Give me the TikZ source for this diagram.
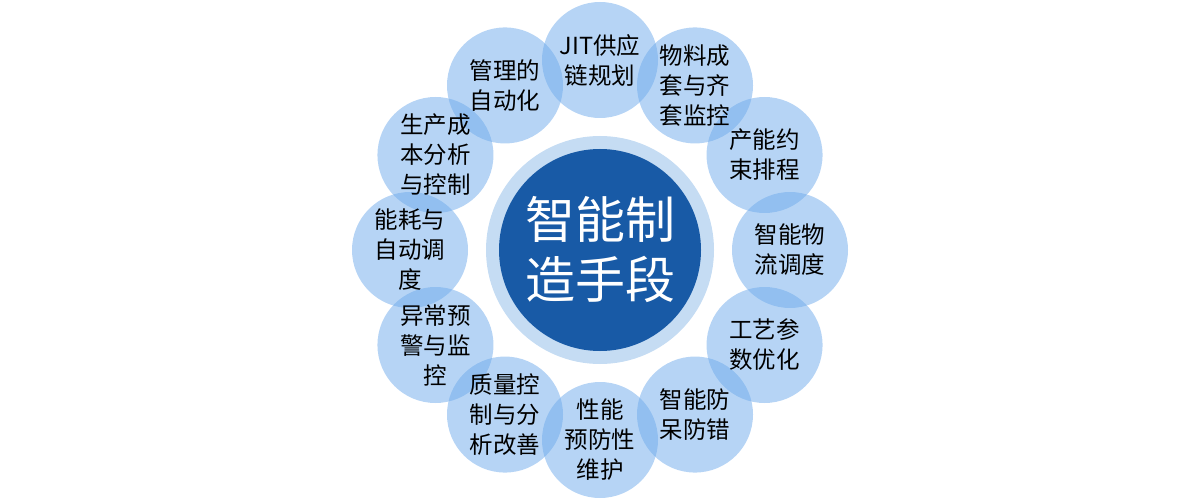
\documentclass[tikz,border=0pt]{standalone}
\usepackage{fontspec}
\setmainfont{Noto Sans CJK SC}
\definecolor{petalblue}{RGB}{110,170,235}
\definecolor{ringblue}{RGB}{197,220,243}
\definecolor{coreblue}{RGB}{24,90,166}
\begin{document}
\begin{tikzpicture}[x=1pt,y=-1pt,
  petal/.style={circle,minimum size=116pt,inner sep=0pt,fill=petalblue,fill opacity=0.5},
  petaltext/.style={align=center,font=\fontsize{23.5}{30}\selectfont,text=black,inner sep=0pt},
  ringdisc/.style={circle,minimum size=228pt,inner sep=0pt,fill=ringblue},
  coredisc/.style={circle,minimum size=202pt,inner sep=0pt,fill=coreblue,text=white,align=center,font=\fontsize{50}{60}\selectfont}]
\useasboundingbox (0,0) rectangle (1200,500);
\node[ringdisc] (ring) at (600,250) {};
\node[coredisc] (core) at (600,250) {智能制\\造手段};
\foreach \i/\x/\y in {1/600/60, 2/695/85.45, 3/764.54/155, 4/790/250,
  5/764.54/345, 6/695/414.55, 7/600/440, 8/505/414.55,
  9/435.46/345, 10/410/250, 11/435.46/155, 12/505/85.45}
  \node[petal] (c\i) at (\x,\y) {};
\foreach \i/\t in {1/{JIT供应\\链规划}, 2/{物料成\\套与齐\\套监控}, 3/{产能约\\束排程},
  4/{智能物\\流调度}, 5/{工艺参\\数优化}, 6/{智能防\\呆防错},
  7/{性能\\预防性\\维护}, 8/{质量控\\制与分\\析改善}, 9/{异常预\\警与监\\控},
  10/{能耗与\\自动调\\度}, 11/{生产成\\本分析\\与控制}, 12/{管理的\\自动化}}
  \node[petaltext] (t\i) at (c\i.center) {\t};
\end{tikzpicture}
\end{document}
